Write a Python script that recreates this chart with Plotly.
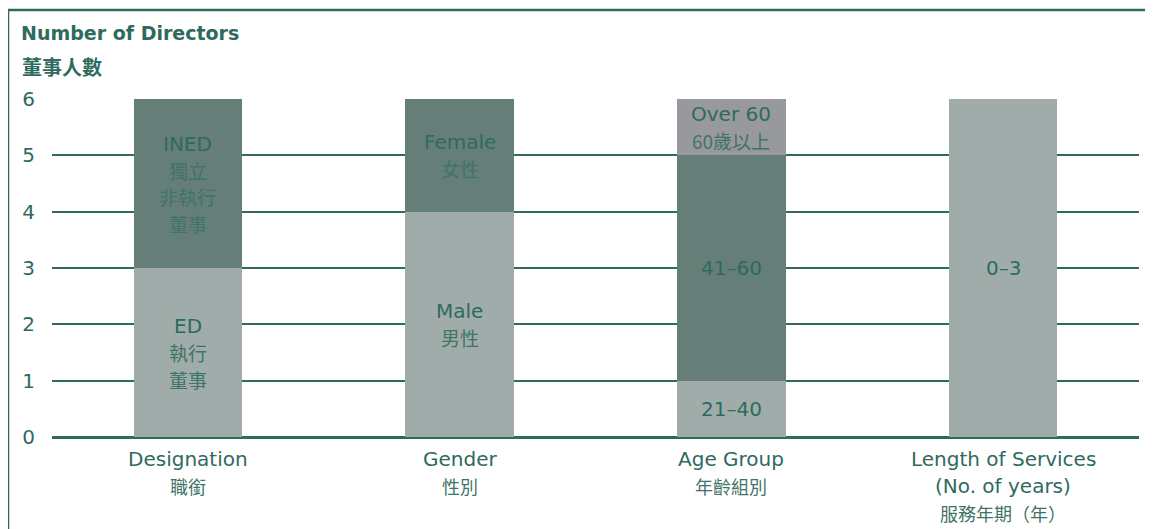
import plotly.graph_objects as go

# ---- data ----
categories = ["Designation", "Gender", "Age Group", "Length of Services"]
cat_lines = [
    ["Designation", "職銜"],
    ["Gender", "性別"],
    ["Age Group", "年齡組別"],
    ["Length of Services", "(No. of years)", "服務年期（年）"],
]

layer1_vals = [3, 4, 1, 6]
layer1_lines = [["ED", "執行", "董事"], ["Male", "男性"], ["21–40"], ["0–3"]]

layer2_vals = [3, 2, 4, 0]
layer2_lines = [["INED", "獨立", "非執行", "董事"], ["Female", "女性"], ["41–60"], []]

layer3_vals = [0, 0, 1, 0]
layer3_lines = [[], [], ["Over 60", "60歲以上"], []]

y_ticks = [0, 1, 2, 3, 4, 5, 6]

# ---- style ----
TEAL = "#2E6A5E"
TEAL_CJK = "#3F7468"
DARK = "#667E78"
LIGHT = "#A0ACA9"
GREY = "#98999D"
FONT = "DejaVu Sans, Noto Sans CJK TC"
CJK = "Noto Sans CJK TC"
LINE_H = 26.5


def is_cjk(s):
    return any(ord(c) > 0x2E80 for c in s)


x = list(range(len(categories)))
layers = [
    (layer1_vals, LIGHT, layer1_lines),
    (layer2_vals, DARK, layer2_lines),
    (layer3_vals, GREY, layer3_lines),
]

fig = go.Figure()
base = [0] * len(x)
annotations = []
for vals, color, lines in layers:
    fig.add_trace(go.Bar(x=x, y=vals, marker=dict(color=color, line=dict(width=0)),
                         width=0.4, hoverinfo="skip", showlegend=False))
    for i, v in enumerate(vals):
        if v > 0 and lines[i]:
            mid = base[i] + v / 2
            n = len(lines[i])
            for k, t in enumerate(lines[i]):
                cj = is_cjk(t)
                annotations.append(dict(
                    x=x[i], y=mid, xref="x", yref="y", text=t, showarrow=False,
                    yshift=((n - 1) / 2 - k) * LINE_H,
                    font=dict(family=CJK if cj else FONT, size=19 if cj else 20,
                              color=TEAL_CJK if cj else TEAL)))
        base[i] += v

# category labels below axis
for i, lines in enumerate(cat_lines):
    for k, t in enumerate(lines):
        cj = is_cjk(t)
        annotations.append(dict(
            x=x[i], y=0, xref="x", yref="paper", text=t, showarrow=False,
            yanchor="middle", yshift=-22 - k * 27,
            font=dict(family=CJK if cj else FONT, size=18 if cj else 20,
                      color=TEAL_CJK if cj else TEAL)))

# title annotations
annotations.append(dict(x=11, y=25, xref="paper", yref="paper", xanchor="left", yanchor="middle",
                        text="<b>Number of Directors</b>", showarrow=False,
                        font=dict(family=FONT, size=19, color=TEAL)))
annotations.append(dict(x=12, y=58, xref="paper", yref="paper", xanchor="left", yanchor="middle",
                        text="<b>董事人數</b>", showarrow=False,
                        font=dict(family=CJK, size=20, color=TEAL)))

W, H = 1145, 521
ML, MR, MT, MB = 44, 13.5, 91, 92
PW, PH = W - ML - MR, H - MT - MB


def px_x(p):
    return (p - ML) / PW


def px_y(p):
    return 1 - (p - MT) / PH


for a in annotations[-2:]:
    a["x"] = px_x(a["x"])
    a["y"] = px_y(a["y"])

fig.update_layout(
    width=W, height=H,
    margin=dict(l=ML, r=MR, t=MT, b=MB),
    barmode="stack",
    plot_bgcolor="white", paper_bgcolor="white",
    font=dict(family=FONT, size=19, color=TEAL),
    annotations=annotations,
    xaxis=dict(range=[-0.5, 3.5], tickmode="array", tickvals=x, showticklabels=False,
               showgrid=False, zeroline=False, showline=False, ticks=""),
    yaxis=dict(range=[0, 6], tickmode="array", tickvals=y_ticks, showgrid=True,
               gridcolor=TEAL, gridwidth=2, zeroline=True, zerolinecolor=TEAL, zerolinewidth=3,
               showline=False, ticks="", ticklabelstandoff=16,
               tickfont=dict(family=FONT, size=20, color=TEAL)),
    shapes=[
        dict(type="line", xref="paper", yref="paper", x0=px_x(0), x1=px_x(0), y0=px_y(2), y1=px_y(H + 5),
             line=dict(color=TEAL, width=2.5)),
        dict(type="line", xref="paper", yref="paper", x0=px_x(0), x1=px_x(W + 5), y0=px_y(2), y1=px_y(2),
             line=dict(color=TEAL, width=2.5)),
    ],
)

fig.write_html("out.html")
